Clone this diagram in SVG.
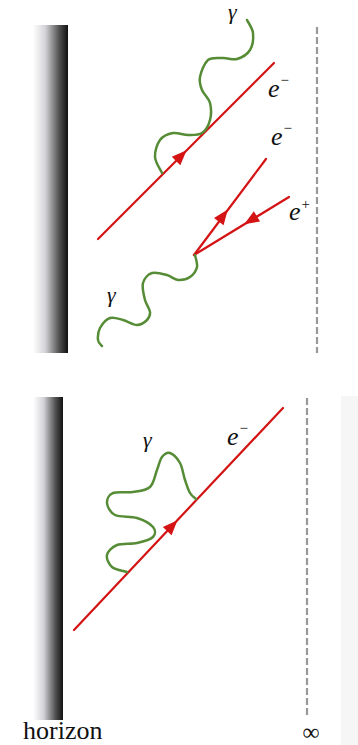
<svg xmlns="http://www.w3.org/2000/svg" width="358" height="745" viewBox="0 0 358 745">
<style>
.fer{stroke:#d41414;stroke-width:2.2;fill:none;stroke-linecap:round}
.pho{stroke:#568c36;stroke-width:2.5;fill:none;stroke-linecap:round}
.dash{stroke:#999;stroke-width:2.2;stroke-dasharray:7 3}
.lbl{font-style:italic;fill:#111}
.cap{fill:#111}
.arr{fill:#d41414}
</style>
<defs>
<linearGradient id="hz" x1="0" y1="0" x2="1" y2="0">
<stop offset="0" stop-color="#ffffff"/>
<stop offset="0.35" stop-color="#d4d4d8"/>
<stop offset="0.75" stop-color="#505050"/>
<stop offset="1" stop-color="#111"/>
</linearGradient>
<path id="ah" d="M8 0 L-7 -6 L-7 6 Z"/>
</defs>
<rect x="341" y="396" width="17" height="349" fill="#f6f6f6"/>
<g id="horizon">
<rect x="33" y="25" width="35" height="328" fill="url(#hz)"/>
<rect x="33" y="397" width="30" height="323" fill="url(#hz)"/>
<text class="cap" x="23" y="739" font-size="26" font-family="'Liberation Serif', 'DejaVu Serif', serif">horizon</text>
</g>
<g id="infinity">
<line class="dash" x1="317" y1="27" x2="317" y2="353"/>
<line class="dash" x1="307" y1="398" x2="307" y2="718"/>
<text class="cap" x="311" y="740" font-size="24" text-anchor="middle" font-family="'Liberation Serif', 'DejaVu Serif', serif">∞</text>
</g>
<g id="connectors">
<line class="fer" x1="98" y1="239" x2="274" y2="63"/>
<use href="#ah" class="arr" transform="translate(181,156) rotate(-45)"/>
<line class="fer" x1="194" y1="255" x2="266" y2="159"/>
<use href="#ah" class="arr" transform="translate(223,216) rotate(-53.1)"/>
<line class="fer" x1="289" y1="197" x2="194" y2="255"/>
<use href="#ah" class="arr" transform="translate(251,220) rotate(148.6)"/>
<line class="fer" x1="74" y1="630" x2="283" y2="408"/>
<use href="#ah" class="arr" transform="translate(172,526) rotate(-46.7)"/>
<path class="pho" d="M162,173 C160.8,170.3 155.3,162.5 155,157 C154.7,151.5 157,144 160,140 C163,136 168.3,133.8 173,133 C177.7,132.2 183.2,135 188,135 C192.8,135 198.3,135.5 202,133 C205.7,130.5 208.7,125 210,120 C211.3,115 211.3,108 210,103 C208.7,98 203.7,94.3 202,90 C200.3,85.7 199,82 200,77 C201,72 204.2,63.2 208,60 C211.8,56.8 218.2,58.2 223,58 C227.8,57.8 232.5,60.3 237,59 C241.5,57.7 247.3,54.3 250,50 C252.7,45.7 253.5,38 253,33 C252.5,28 248,22.2 247,20"/>
<path class="pho" d="M195,255 C195.3,257 197.8,263.3 197,267 C196.2,270.7 193.2,274.8 190,277 C186.8,279.2 181.8,280.3 178,280 C174.2,279.7 171.3,276.2 167,275 C162.7,273.8 156,271.7 152,273 C148,274.3 144.2,278.5 143,283 C141.8,287.5 143.8,295.2 145,300 C146.2,304.8 149.7,308.7 150,312 C150.3,315.3 149.2,317.8 147,320 C144.8,322.2 141,325 137,325 C133,325 127.5,321.2 123,320 C118.5,318.8 113.8,316.7 110,318 C106.2,319.3 102,324.3 100,328 C98,331.7 97.7,337 98,340 C98.3,343 101.3,345 102,346"/>
<path class="pho" d="M196,499 C195,498 191.8,496.2 190,493 C188.2,489.8 186.7,485 185,480 C183.3,475 182.5,467.5 180,463 C177.5,458.5 173,454 170,453 C167,452 164.2,454.2 162,457 C159.8,459.8 159,465 157,470 C155,475 154,483.3 150,487 C146,490.7 139.2,491 133,492 C126.8,493 117.3,491.2 113,493 C108.7,494.8 106.7,499.3 107,503 C107.3,506.7 110,512.5 115,515 C120,517.5 130.7,516 137,518 C143.3,520 150.3,523.8 153,527 C155.7,530.2 155.7,534.3 153,537 C150.3,539.7 143,541.7 137,543 C131,544.3 122,543 117,545 C112,547 107.8,551.3 107,555 C106.2,558.7 108.7,564.2 112,567 C115.3,569.8 124.5,571.2 127,572"/>
</g>
<g id="labels" font-family="'Liberation Serif', 'DejaVu Serif', serif">
<text class="lbl" x="228" y="19" font-size="22">γ</text>
<text class="lbl" x="268" y="97" font-size="26">e<tspan font-size="15" dy="-12">−</tspan></text>
<text class="lbl" x="271" y="145" font-size="26">e<tspan font-size="15" dy="-12">−</tspan></text>
<text class="lbl" x="289" y="220" font-size="26">e<tspan font-size="15" dy="-11">+</tspan></text>
<text class="lbl" x="107" y="302" font-size="22">γ</text>
<text class="lbl" x="143" y="447" font-size="22">γ</text>
<text class="lbl" x="227" y="445" font-size="26">e<tspan font-size="15" dy="-12">−</tspan></text>
</g>
</svg>
